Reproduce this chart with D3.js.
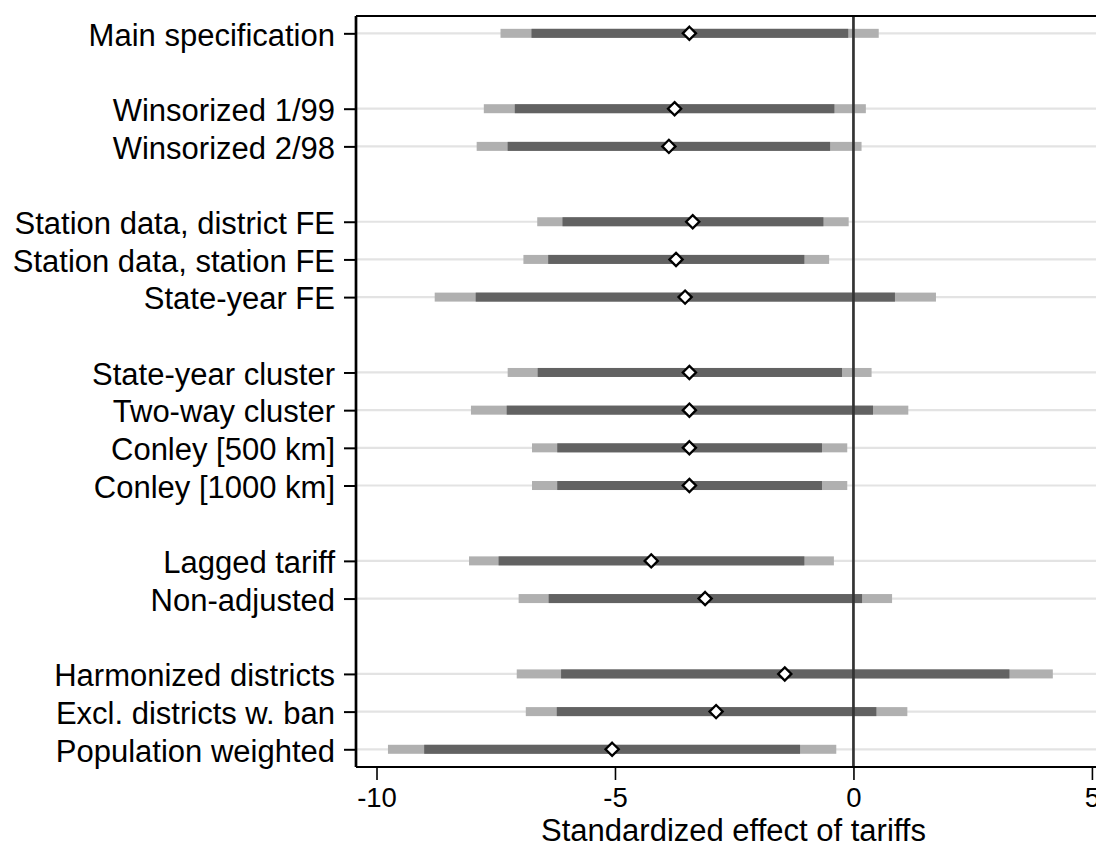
<!DOCTYPE html>
<html lang="en">
<meta charset="utf-8">
<title>Robustness of tariff effect</title>
<head>
  <style>
    body { margin: 0; background: #fff; }
    svg text { font-family: Helvetica, Arial, "Liberation Sans", sans-serif; fill: #000; }
  </style>
</head>
<body>
  <script src="https://cdn.jsdelivr.net/npm/d3@7"></script>
  <div id="chart"></div>
  <script>
    // specifications, top to bottom (slot = vertical position, gaps between groups)
    var labels = ["Main specification", "Winsorized 1/99", "Winsorized 2/98",
      "Station data, district FE", "Station data, station FE", "State-year FE",
      "State-year cluster", "Two-way cluster", "Conley [500 km]", "Conley [1000 km]",
      "Lagged tariff", "Non-adjusted",
      "Harmonized districts", "Excl. districts w. ban", "Population weighted"];
    var slots = [0, 2, 3, 5, 6, 7, 9, 10, 11, 12, 14, 15, 17, 18, 19];
    var estimate = [-3.44, -3.75, -3.87, -3.37, -3.72, -3.53, -3.44, -3.44, -3.44, -3.44, -4.24, -3.11, -1.44, -2.88, -5.06];
    var ci90lo = [-6.75, -7.10, -7.25, -6.10, -6.40, -7.92, -6.62, -7.27, -6.21, -6.21, -7.44, -6.39, -6.13, -6.22, -9.00];
    var ci90hi = [-0.11, -0.40, -0.49, -0.63, -1.03, 0.87, -0.24, 0.41, -0.66, -0.66, -1.03, 0.18, 3.27, 0.48, -1.12];
    var ci95lo = [-7.40, -7.75, -7.90, -6.63, -6.92, -8.78, -7.25, -8.02, -6.74, -6.74, -8.06, -7.02, -7.06, -6.87, -9.76];
    var ci95hi = [0.53, 0.26, 0.17, -0.10, -0.51, 1.73, 0.38, 1.15, -0.13, -0.13, -0.41, 0.81, 4.18, 1.13, -0.36];
    var xTicks = [-10, -5, 0, 5];

    var rows = labels.map(function (l, i) {
      return { label: l, slot: slots[i], est: estimate[i],
        lo90: ci90lo[i], hi90: ci90hi[i], lo95: ci95lo[i], hi95: ci95hi[i] };
    });

    var W = 1096, H = 848;
    var plotL = 356, plotR = 1111, plotT = 16, plotB = 767;

    var svg = d3.select("#chart").append("svg")
      .attr("width", W).attr("height", H);

    var x = d3.scaleLinear().domain([-10.43, 5.4]).range([plotL, plotR]);
    var y = d3.scaleLinear().domain([-0.46, 19.47]).range([plotT, plotB]);

    // light row lines
    svg.selectAll(".rowline").data(rows).enter().append("line")
      .attr("x1", plotL).attr("x2", plotR)
      .attr("y1", d => y(d.slot)).attr("y2", d => y(d.slot))
      .attr("stroke", "#e3e3e3").attr("stroke-width", 2.2);

    var bh = 9;
    // 95% interval
    svg.selectAll(".ci95").data(rows).enter().append("rect")
      .attr("x", d => x(d.lo95)).attr("width", d => x(d.hi95) - x(d.lo95))
      .attr("y", d => y(d.slot) - bh / 2).attr("height", bh)
      .attr("fill", "#b0b0b0");
    // 90% interval
    svg.selectAll(".ci90").data(rows).enter().append("rect")
      .attr("x", d => x(d.lo90)).attr("width", d => x(d.hi90) - x(d.lo90))
      .attr("y", d => y(d.slot) - bh / 2).attr("height", bh)
      .attr("fill", "#626262");

    // zero line
    svg.append("line")
      .attr("x1", x(0)).attr("x2", x(0)).attr("y1", plotT).attr("y2", plotB)
      .attr("stroke", "#333").attr("stroke-width", 2.7);

    // point estimates (diamonds)
    var r = 6.6;
    svg.selectAll(".pt").data(rows).enter().append("path")
      .attr("transform", d => "translate(" + x(d.est) + "," + y(d.slot) + ")")
      .attr("d", "M0," + (-r) + "L" + r + ",0L0," + r + "L" + (-r) + ",0Z")
      .attr("fill", "#fff").attr("stroke", "#000").attr("stroke-width", 2.3);

    // frame top + right
    svg.append("path")
      .attr("d", "M" + plotL + "," + plotT + "H" + plotR + "V" + plotB)
      .attr("fill", "none").attr("stroke", "#000").attr("stroke-width", 2);

    // y axis
    var yAxis = svg.append("g")
      .attr("transform", "translate(" + plotL + ",0)")
      .call(d3.axisLeft(y).tickValues(slots)
        .tickFormat(function (s) { return labels[slots.indexOf(s)]; })
        .tickSize(12).tickPadding(9));
    yAxis.select(".domain").attr("stroke", "#000").attr("stroke-width", 2.7)
      .attr("d", "M0," + plotT + "V" + plotB);
    yAxis.selectAll(".tick line").attr("stroke", "#000").attr("stroke-width", 2);
    yAxis.selectAll(".tick text")
      .style("font-size", "31px").attr("dy", "0.38em");

    // x axis
    var xAxis = svg.append("g")
      .attr("transform", "translate(0," + plotB + ")")
      .call(d3.axisBottom(x).tickValues(xTicks).tickSize(13).tickPadding(7)
        .tickFormat(d => String(d)));
    xAxis.select(".domain").attr("stroke", "#000").attr("stroke-width", 2.2)
      .attr("d", "M" + plotL + ",0H" + plotR);
    xAxis.selectAll(".tick line").attr("stroke", "#000").attr("stroke-width", 1.6);
    xAxis.selectAll(".tick text")
      .style("font-size", "27.5px");

    // x axis title
    svg.append("text")
      .attr("x", (plotL + plotR) / 2).attr("y", 841)
      .attr("text-anchor", "middle")
      .style("font-size", "31px")
      .text("Standardized effect of tariffs");
  </script>
</body>
</html>
